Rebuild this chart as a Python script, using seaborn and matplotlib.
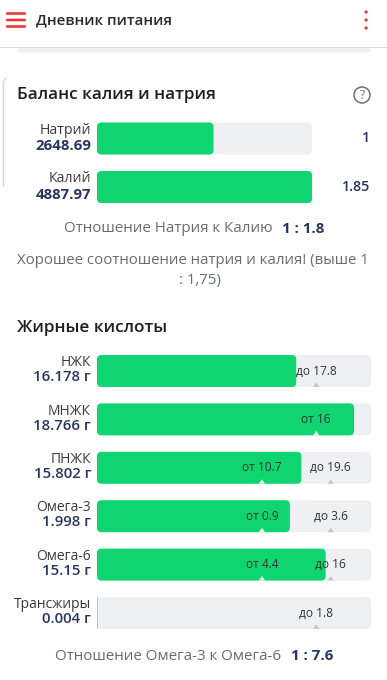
import matplotlib
matplotlib.use("Agg")
import matplotlib.pyplot as plt
from matplotlib.patches import FancyBboxPatch, Polygon, Circle, Rectangle
import matplotlib.transforms as mtransforms
import seaborn as sns
import pandas as pd

# ---------------- data ----------------
mineral_names = ["Натрий", "Калий"]
mineral_amounts = [2648.69, 4887.97]
mineral_ratios = ["1", "1.85"]
na_k_ratio = "1 : 1.8"

fat_names = ["НЖК", "МНЖК", "ПНЖК", "Омега-3", "Омега-6", "Трансжиры"]
fat_values = [16.178, 18.766, 15.802, 1.998, 15.15, 0.004]
fat_min = [None, 16, 10.7, 0.9, 4.4, None]
fat_max = [17.8, None, 19.6, 3.6, 16, 1.8]
omega_ratio = "1 : 7.6"

# ---------------- style ----------------
sns.set_theme(style="white")
plt.rcParams["font.family"] = ["Open Sans", "DejaVu Sans"]

GREEN = "#10d46f"
TRACK = "#eef0f3"
NAVY = "#27365f"
DARK = "#2b2b2b"
GRAY = "#676b72"
RED = "#e53935"

W, H = 387, 680
fig = plt.figure(figsize=(W / 100, H / 100), dpi=100)
fig.patch.set_facecolor("white")


def fx(x):
    return x / W


def fy(y):
    return 1 - y / H


def ftext(x, y, s, **kw):
    fig.text(fx(x), fy(y), s, **kw)


# ---------------- header ----------------
bg = fig.add_axes([0, 0, 1, 1], zorder=-5)
bg.set_xlim(0, W)
bg.set_ylim(H, 0)
bg.axis("off")
bg.add_patch(Rectangle((0, 47), W, 1.2, color="#d9dbe0", lw=0))
bg.add_patch(FancyBboxPatch((17, 48), 354, 4.5, boxstyle="round,pad=0,rounding_size=3",
                            color="#eef0f3", lw=0))
for yy in (13.5, 20, 26.5):
    bg.add_patch(FancyBboxPatch((6, yy - 1.3), 20, 2.6, boxstyle="round,pad=0,rounding_size=1.2",
                                color=RED, lw=0))
for yy in (12, 20, 28):
    bg.add_patch(Circle((366, yy), 1.6, color=RED, lw=0))
# left card edge
bg.plot([3.2, 3.2], [82, 186], color="#d4d6da", lw=1)
bg.plot([3.2, 6], [82, 78], color="#d4d6da", lw=1)
# help icon
bg.add_patch(Circle((362, 95), 8, fill=False, ec="#707070", lw=1.1))
bg.text(362, 95.5, "?", ha="center", va="center", fontsize=8.5, color="#707070")

ftext(36, 20, "Дневник питания", fontsize=10.8, fontweight="semibold", color=DARK, va="center")

# ---------------- section titles ----------------
ftext(17, 95, "Баланс калия и натрия", fontsize=12.3, fontweight="semibold", color="#1e1e1e", va="center")
ftext(17, 328, "Жирные кислоты", fontsize=12.3, fontweight="semibold", color="#1e1e1e", va="center")


def round_bars(ax, patches, color, px_per_x, px_per_y, radius_px=4.5):
    aspect = px_per_x / px_per_y
    for p in patches:
        x0, y0 = p.get_x(), p.get_y()
        w, h = p.get_width(), p.get_height()
        p.remove()
        if w <= 0:
            continue
        rx = min(radius_px / px_per_x, w / 2)
        fb = FancyBboxPatch((x0, y0), w, h,
                            boxstyle=f"round,pad=0,rounding_size={rx}",
                            mutation_aspect=aspect, color=color, lw=0)
        ax.add_patch(fb)


# ---------------- minerals ----------------
m_left, m_right = 97, 312
m_c0, m_c1 = 138.5, 187
m_sp = m_c1 - m_c0
m_top, m_bot = m_c0 - m_sp / 2, m_c1 + m_sp / 2
axm = fig.add_axes([fx(m_left), fy(m_bot), (m_right - m_left) / W, (m_bot - m_top) / H])
mx = max(mineral_amounts)
dfm = pd.DataFrame({"name": mineral_names,
                    "track": [1.0] * len(mineral_names),
                    "fill": [v / mx for v in mineral_amounts]})
sns.barplot(data=dfm, y="name", x="track", color=TRACK, orient="h", width=0.66,
            saturation=1, ax=axm)
n_tr = len(axm.patches)
sns.barplot(data=dfm, y="name", x="fill", color=GREEN, orient="h", width=0.66,
            saturation=1, ax=axm)
axm.set_xlim(0, 1)
axm.set_ylim(len(mineral_names) - 0.5, -0.5)
axm.axis("off")
pxx = m_right - m_left
pxy = m_sp
pats = list(axm.patches)
round_bars(axm, pats[:n_tr], TRACK, pxx, pxy)
round_bars(axm, pats[n_tr:], GREEN, pxx, pxy)

tm = mtransforms.blended_transform_factory(fig.transFigure, axm.transData)
for i, (n, v, r) in enumerate(zip(mineral_names, mineral_amounts, mineral_ratios)):
    axm.text(fx(91), i - 0.17, n, transform=tm, ha="right", va="center", fontsize=10.2, color="#3a3a3a")
    axm.text(fx(91), i + 0.16, f"{v:.2f}", transform=tm, ha="right", va="center", fontsize=10.8,
             fontweight="bold", color=NAVY)
    axm.text(fx(370), i, r, transform=tm, ha="right", va="center", fontsize=10.3,
             fontweight="semibold", color=NAVY)

ftext(273, 229, "Отношение Натрия к Калию", ha="right", va="center", fontsize=10.9, color=GRAY)
ftext(282, 229, na_k_ratio, ha="left", va="center", fontsize=10.9, fontweight="bold", color=NAVY)
ftext(192.5, 260, "Хорошее соотношение натрия и калия! (выше 1", ha="center", va="center",
      fontsize=10.8, color=GRAY)
ftext(199.5, 280.5, ": 1,75)", ha="center", va="center", fontsize=10.8, color=GRAY)

# ---------------- fats ----------------
f_left, f_right = 97, 371
f_c0, f_c5 = 371, 613
f_sp = (f_c5 - f_c0) / (len(fat_names) - 1)
f_top, f_bot = f_c0 - f_sp / 2, f_c5 + f_sp / 2
axf = fig.add_axes([fx(f_left), fy(f_bot), (f_right - f_left) / W, (f_bot - f_top) / H])

LO_POS, HI_POS, ONE_POS = 0.602, 0.853, 0.8


def scale(v, lo, hi):
    if lo is not None and hi is not None:
        if v <= lo:
            return v / lo * LO_POS
        if v <= hi:
            return LO_POS + (v - lo) / (hi - lo) * (HI_POS - LO_POS)
        return min(1.0, HI_POS + (v - hi) / hi * (1 - HI_POS))
    lim = lo if lo is not None else hi
    return min(1.0, v / lim * ONE_POS)


def marker_pos(lo, hi):
    out = []
    if lo is not None and hi is not None:
        out.append((LO_POS, f"от {lo:g}"))
        out.append((HI_POS, f"до {hi:g}"))
    elif lo is not None:
        out.append((ONE_POS, f"от {lo:g}"))
    else:
        out.append((ONE_POS, f"до {hi:g}"))
    return out


fills = [scale(v, lo, hi) for v, lo, hi in zip(fat_values, fat_min, fat_max)]
dff = pd.DataFrame({"name": fat_names, "track": [1.0] * len(fat_names), "fill": fills})
sns.barplot(data=dff, y="name", x="track", color=TRACK, orient="h", width=0.66,
            saturation=1, ax=axf)
n_tr = len(axf.patches)
sns.barplot(data=dff, y="name", x="fill", color=GREEN, orient="h", width=0.66,
            saturation=1, ax=axf)
axf.set_xlim(0, 1)
axf.set_ylim(len(fat_names) - 0.5, -0.5)
axf.axis("off")
pxx = f_right - f_left
pxy = f_sp
pats = list(axf.patches)
round_bars(axf, pats[:n_tr], TRACK, pxx, pxy)
round_bars(axf, pats[n_tr:], GREEN, pxx, pxy, radius_px=4.5)

tf = mtransforms.blended_transform_factory(fig.transFigure, axf.transData)
tri_w = 3.2 / pxx
tri_h = 4.5 / pxy
for i, (n, v, lo, hi) in enumerate(zip(fat_names, fat_values, fat_min, fat_max)):
    axf.text(fx(91), i - 0.17, n, transform=tf, ha="right", va="center", fontsize=10, color="#3a3a3a")
    axf.text(fx(91), i + 0.13, f"{v:g} г", transform=tf, ha="right", va="center", fontsize=10.8,
             fontweight="semibold", color=NAVY)
    for pos, lab in marker_pos(lo, hi):
        axf.text(pos, i, lab, ha="center", va="center", fontsize=8.6, color="#333333")
        on_green = pos < fills[i]
        col = "#e9f7ef" if on_green else "#c4c8ce"
        yb = i + 0.33
        axf.add_patch(Polygon([(pos - tri_w, yb), (pos + tri_w, yb), (pos, yb - tri_h)],
                              closed=True, color=col, lw=0))

ftext(281, 656, "Отношение Омега-3 к Омега-6", ha="right", va="center", fontsize=10.9, color=GRAY)
ftext(291, 656, omega_ratio, ha="left", va="center", fontsize=10.9, fontweight="bold", color=NAVY)

fig.savefig("out.png", dpi=100, facecolor="white")
